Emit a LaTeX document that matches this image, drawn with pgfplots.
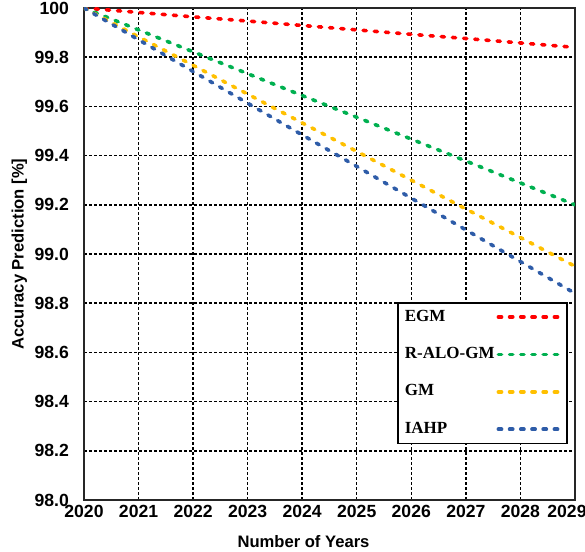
\documentclass[border=0pt]{standalone}
\usepackage{fontspec}
\setmainfont{Liberation Serif}
\setsansfont{Liberation Sans}
\usepackage{pgfplots}
\pgfplotsset{compat=1.18}
\definecolor{egm}{RGB}{255,0,0}
\definecolor{ralo}{RGB}{0,176,80}
\definecolor{gm}{RGB}{255,192,0}
\definecolor{iahp}{RGB}{46,92,168}
\begin{document}
\begin{tikzpicture}
\begin{axis}[
  scale only axis,
  width=245.5pt, height=246pt,
  xmin=2020, xmax=2029, ymin=98, ymax=100,
  xtick={2020,...,2028},
  xticklabels={2020,2021,2022,2023,2024,2025,2026,2027,2028},
  extra x ticks={2029},
  extra x tick labels={2029},
  extra x tick style={grid=none, xticklabel style={xshift=-4pt}},
  ytick={98,98.2,98.4,98.6,98.8,99,99.2,99.4,99.6,99.8,100},
  yticklabels={98.0,98.2,98.4,98.6,98.8,99.0,99.2,99.4,99.6,99.8,100},
  major tick length=0pt,
  tick label style={font=\sffamily\bfseries\fontsize{8.8}{10}\selectfont},
  yticklabel style={xshift=-4pt},
  xticklabel style={yshift=1pt},
  /pgf/number format/assume math mode=true,
  xlabel={Number of Years},
  ylabel={Accuracy Prediction [\%]},
  label style={font=\sffamily\bfseries\fontsize{8.3}{10}\selectfont},
  xlabel style={xshift=-13pt, yshift=-2pt},
  ylabel style={yshift=-3pt},
  grid=major,
  major grid style={black, line width=0.75pt, dash pattern=on 1.5pt off 1pt},
  axis line style={line width=1.3pt, black!85},
  legend plot pos=right,
  legend cell align=left,
  legend style={at={(0.9857,0.4024)}, anchor=north east,
    font=\rmfamily\bfseries\fontsize{8.5}{10}\selectfont,
    draw=black, line width=0.8pt, inner xsep=2.5pt, inner ysep=1.5pt,
    nodes={inner xsep=1pt},
    row sep=7.6pt, /tikz/every even column/.append style={column sep=0pt}},
  legend image code/.code={\draw[#1, line width=1.8pt, dash pattern=on 1.6pt off 4pt, line cap=round] (0pt,0pt) -- (31pt,0pt);},
  every axis plot/.append style={line width=1.8pt, dash pattern=on 1.6pt off 4pt, line cap=round},
]
\addplot[egm] coordinates {(2020,100) (2021,99.982) (2022,99.964) (2023,99.947) (2024,99.929) (2025,99.911) (2026,99.893) (2027,99.876) (2028,99.858) (2029,99.84)};
\addlegendentry{EGM}
\addplot[ralo] coordinates {(2020,100) (2021,99.911) (2022,99.822) (2023,99.733) (2024,99.644) (2025,99.556) (2026,99.467) (2027,99.378) (2028,99.289) (2029,99.2)};
\addlegendentry{R-ALO-GM}
\addplot[gm] coordinates {(2020,100) (2021,99.883) (2022,99.767) (2023,99.65) (2024,99.533) (2025,99.417) (2026,99.3) (2027,99.183) (2028,99.067) (2029,98.95)};
\addlegendentry{GM}
\addplot[iahp] coordinates {(2020,100) (2021,99.871) (2022,99.742) (2023,99.613) (2024,99.484) (2025,99.356) (2026,99.227) (2027,99.098) (2028,98.969) (2029,98.84)};
\addlegendentry{IAHP\rule[-5pt]{0pt}{5pt}}
\end{axis}
\pgfresetboundingbox
\path (current axis.south west) ++(-42pt,-26pt) rectangle ++(292.5pt,276pt);
\end{tikzpicture}
\end{document}
